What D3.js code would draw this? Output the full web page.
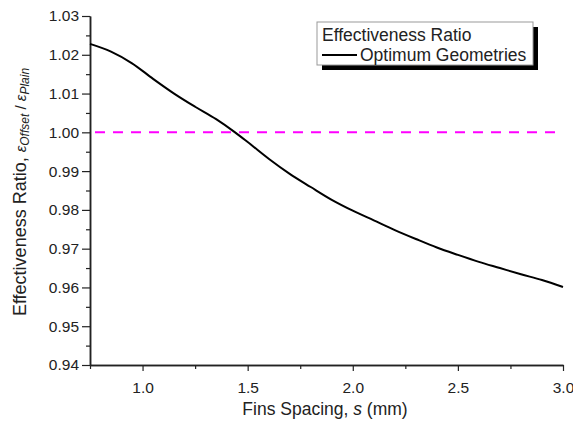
<!DOCTYPE html>
<html>
<head>
<meta charset="utf-8">
<script src="https://cdn.jsdelivr.net/npm/d3@7"></script>
<style>
html,body{margin:0;padding:0;background:#fff;}
svg text{font-family:Arial,"Liberation Sans",sans-serif;fill:#222;}
</style>
</head>
<body>
<svg id="chart" width="573" height="421"></svg>
<script>
const spacing = [0.75,0.85,0.95,1.05,1.15,1.25,1.35,1.44,1.5,1.6,1.7,1.8,1.9,2.0,2.1,2.2,2.3,2.4,2.5,2.6,2.7,2.8,2.9,3.0];
const ratio   = [1.0228,1.0208,1.0178,1.0138,1.0100,1.0066,1.0034,1.0000,0.9975,0.9932,0.9893,0.9859,0.9826,0.9798,0.9773,0.9748,0.9725,0.9703,0.9684,0.9666,0.9650,0.9634,0.9619,0.9601];
const referenceLine = [1.00];
const xTicks = [1.0,1.5,2.0,2.5,3.0];
const xMinorTicks = [0.75,1.25,1.75,2.25,2.75];
const yTicks = [0.94,0.95,0.96,0.97,0.98,0.99,1.00,1.01,1.02,1.03];
const yMinorTicks = [0.945,0.955,0.965,0.975,0.985,0.995,1.005,1.015,1.025];
const legendTitle = "Effectiveness Ratio";
const seriesName = "Optimum Geometries";

const svg = d3.select("#chart");
const L = 90, R = 563, T = 16, B = 365;
const x = d3.scaleLinear().domain([0.75,3.0]).range([L,R]);
const y = d3.scaleLinear().domain([0.94,1.03]).range([B,T]);

// axes
const xAxis = svg.append("g").attr("transform",`translate(0,${B})`)
  .call(d3.axisBottom(x).tickValues(xTicks).tickFormat(d3.format(".1f")).tickSize(6).tickSizeOuter(0));
const xMinor = svg.append("g").attr("transform",`translate(0,${B})`)
  .call(d3.axisBottom(x).tickValues(xMinorTicks).tickFormat("").tickSize(4).tickSizeOuter(0));
const yAxis = svg.append("g").attr("transform",`translate(${L},0)`)
  .call(d3.axisLeft(y).tickValues(yTicks).tickFormat(d3.format(".2f")).tickSize(8).tickSizeOuter(0));
const yMinor = svg.append("g").attr("transform",`translate(${L},0)`)
  .call(d3.axisLeft(y).tickValues(yMinorTicks).tickFormat("").tickSize(4).tickSizeOuter(0));
[xAxis,xMinor,yAxis,yMinor].forEach(g=>{
  g.selectAll("path").attr("stroke","#222").attr("stroke-width",1.5);
  g.selectAll("line").attr("stroke","#222").attr("stroke-width",1.2);
  g.selectAll("text").attr("font-size",15.5).attr("font-family","Arial, Liberation Sans, sans-serif").attr("fill","#222");
});
xAxis.selectAll("text").attr("dy","1.2em");

// reference line
svg.append("line")
  .attr("x1",x(0.75)+5).attr("x2",x(3.0))
  .attr("y1",y(referenceLine[0])).attr("y2",y(referenceLine[0]))
  .attr("stroke","#ff00ff").attr("stroke-width",2).attr("stroke-dasharray","10,8");

// curve
const line = d3.line().x((d,i)=>x(spacing[i])).y(d=>y(d)).curve(d3.curveMonotoneX);
svg.append("path").datum(ratio).attr("d",line)
  .attr("fill","none").attr("stroke","#000").attr("stroke-width",2);

// legend
svg.append("rect").attr("x",322).attr("y",27).attr("width",216).attr("height",43).attr("fill","#000");
svg.append("rect").attr("x",317).attr("y",22).attr("width",216).attr("height",43)
  .attr("fill","#fff").attr("stroke","#999").attr("stroke-width",1);
svg.append("text").attr("x",322).attr("y",41).attr("font-size",17.5).text(legendTitle);
svg.append("line").attr("x1",322).attr("x2",357).attr("y1",55).attr("y2",55).attr("stroke","#000").attr("stroke-width",2);
svg.append("text").attr("x",360).attr("y",61).attr("font-size",17.5).text(seriesName);

// x label
const xl = svg.append("text").attr("x",325).attr("y",415).attr("text-anchor","middle").attr("font-size",17.5);
xl.append("tspan").text("Fins Spacing, ");
xl.append("tspan").attr("font-style","italic").text("s");
xl.append("tspan").text(" (mm)");

// y label
const yl = svg.append("text").attr("transform","translate(26,192) rotate(-90)").attr("text-anchor","middle").attr("font-size",18);
yl.append("tspan").text("Effectiveness Ratio, ");
yl.append("tspan").attr("font-style","italic").attr("font-size",15).text("ε");
yl.append("tspan").attr("font-style","italic").attr("font-size",12).attr("dy",3).text("Offset");
yl.append("tspan").attr("font-size",15).attr("dy",-3).text(" / ");
yl.append("tspan").attr("font-style","italic").attr("font-size",15).text("ε");
yl.append("tspan").attr("font-style","italic").attr("font-size",12).attr("dy",3).text("Plain");
</script>
</body>
</html>
